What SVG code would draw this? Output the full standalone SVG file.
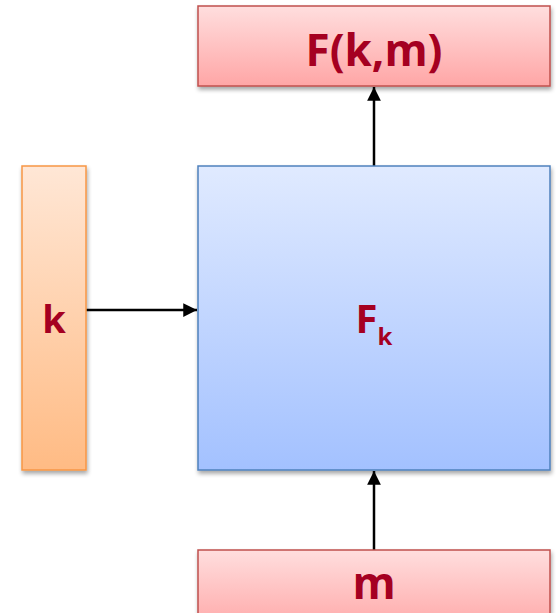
<svg xmlns="http://www.w3.org/2000/svg" width="558" height="613" viewBox="0 0 558 613">
<defs>
<linearGradient id="gRed" x1="0" y1="0" x2="0" y2="1"><stop offset="0" stop-color="#FFDEDE"/><stop offset="1" stop-color="#FFA6A6"/></linearGradient>
<linearGradient id="gRed2" x1="0" y1="0" x2="0" y2="1"><stop offset="0" stop-color="#FFDEDE"/><stop offset="1" stop-color="#FFAEAE"/></linearGradient>
<linearGradient id="gOr" x1="0" y1="0" x2="0" y2="1"><stop offset="0" stop-color="#FFE7D6"/><stop offset="1" stop-color="#FFBB84"/></linearGradient>
<linearGradient id="gBl" x1="0" y1="0" x2="0" y2="1"><stop offset="0" stop-color="#E0EAFF"/><stop offset="1" stop-color="#A3C1FF"/></linearGradient>
<filter id="sh" x="-10%" y="-10%" width="130%" height="130%"><feGaussianBlur in="SourceAlpha" stdDeviation="2"/><feOffset dx="1" dy="3"/><feComponentTransfer><feFuncA type="linear" slope="0.35"/></feComponentTransfer><feMerge><feMergeNode/><feMergeNode in="SourceGraphic"/></feMerge></filter>
<marker id="ah" viewBox="0 0 10 10" refX="10" refY="5" markerWidth="5.5" markerHeight="5.5" orient="auto" markerUnits="strokeWidth"><path d="M0,0 L10,5 L0,10 z" fill="#000"/></marker>
</defs>
<style>
.lbl{font-family:"Open Sans","Noto Sans","Liberation Sans",sans-serif;font-weight:bold;fill:#A50021;text-anchor:middle}
.edge{stroke:#000;stroke-width:2.5;fill:none;marker-end:url(#ah)}
</style>
<g id="connectors">
<line class="edge" x1="86" y1="310" x2="197" y2="310"/>
<line class="edge" x1="374" y1="166" x2="374" y2="87"/>
<line class="edge" x1="374" y1="550" x2="374" y2="471"/>
</g>
<g id="node-out">
<rect x="198" y="6" width="352" height="80" fill="url(#gRed)" stroke="#C0504D" stroke-width="1.5" filter="url(#sh)"/>
<text class="lbl" x="374" y="66" font-size="44">F(k,m)</text>
</g>
<g id="node-k">
<rect x="22" y="166" width="64" height="304" fill="url(#gOr)" stroke="#F79646" stroke-width="1.5" filter="url(#sh)"/>
<text class="lbl" x="54" y="333" font-size="38">k</text>
</g>
<g id="node-F">
<rect x="198" y="166" width="352" height="304" fill="url(#gBl)" stroke="#4F81BD" stroke-width="1.5" filter="url(#sh)"/>
<text class="lbl" x="374" y="333" font-size="40">F<tspan font-size="24" dy="12">k</tspan></text>
</g>
<g id="node-m">
<rect x="198" y="550" width="352" height="70" fill="url(#gRed2)" stroke="#C0504D" stroke-width="1.5" filter="url(#sh)"/>
<text class="lbl" x="374" y="599" font-size="44">m</text>
</g>
</svg>
